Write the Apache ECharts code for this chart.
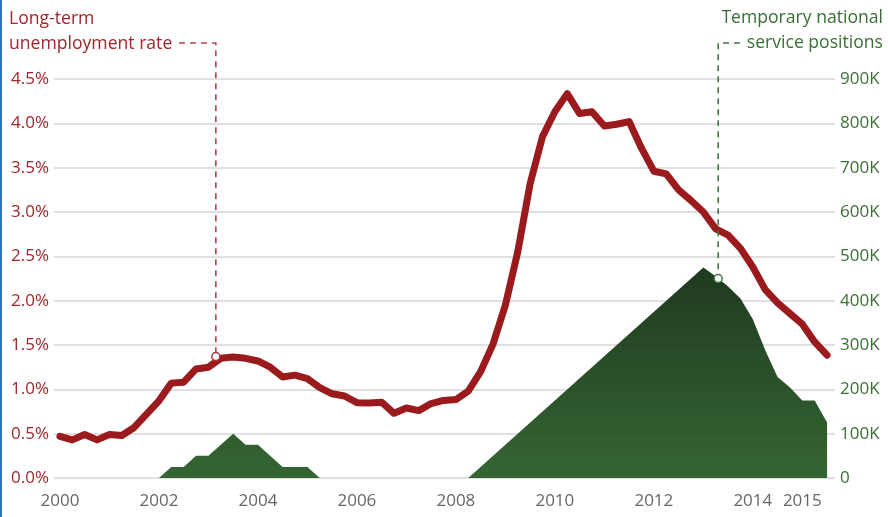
<!DOCTYPE html>
<html>
<head>
<meta charset="utf-8">
<script src="https://cdn.jsdelivr.net/npm/echarts@6/dist/echarts.min.js"></script>
<style>
html,body{margin:0;padding:0;background:#fff;}
#c{width:888px;height:517px;}
</style>
</head>
<body>
<div id="c"></div>
<script>
// Long-term unemployment rate (%), quarterly
const rateTimes = [
  2000.00,2000.25,2000.50,2000.75,2001.00,2001.25,2001.50,2001.75,
  2002.00,2002.25,2002.50,2002.75,2003.00,2003.25,2003.50,2003.75,
  2004.00,2004.25,2004.50,2004.75,2005.00,2005.25,2005.50,2005.75,
  2006.00,2006.25,2006.50,2006.75,2007.00,2007.25,2007.50,2007.75,
  2008.00,2008.25,2008.50,2008.75,2009.00,2009.25,2009.50,2009.75,
  2010.00,2010.25,2010.50,2010.75,2011.00,2011.25,2011.50,2011.75,
  2012.00,2012.25,2012.50,2012.75,2013.00,2013.25,2013.50,2013.75,
  2014.00,2014.25,2014.50,2014.75,2015.00,2015.25,2015.50
];
const rateValues = [
  0.47,0.43,0.49,0.43,0.49,0.48,0.57,0.72,
  0.87,1.07,1.08,1.23,1.25,1.35,1.365,1.35,
  1.32,1.25,1.14,1.16,1.12,1.02,0.95,0.925,
  0.85,0.845,0.855,0.73,0.79,0.76,0.84,0.875,
  0.885,0.98,1.20,1.51,1.95,2.55,3.32,3.85,
  4.13,4.335,4.11,4.13,3.97,3.99,4.02,3.72,
  3.46,3.43,3.25,3.13,3.00,2.81,2.74,2.59,
  2.38,2.125,1.975,1.855,1.735,1.535,1.385
];
// Temporary national service positions (thousands)
const posTimes = [
  2002.00,2002.25,2002.50,2002.75,2003.00,2003.50,2003.75,2004.00,2004.50,2005.00,2005.25,
  2008.25,2013.00,2013.25,2013.50,2013.75,2014.00,2014.25,2014.50,2014.75,2015.00,2015.25,2015.50
];
const posValues = [
  0,25,25,50,50,100,75,75,25,25,0,
  0,475,455,432,405,358,288,228,204,175,175,125
];
// axis ticks
const xTickYears = [2000,2002,2004,2006,2008,2010,2012,2014,2015];
const leftTicks = {min:0, max:4.5, step:0.5};
const rightTicks = {min:0, max:900, step:100};
// annotation anchors
const rateNote = [2003.15, 1.37];
const posNote = [2013.3, 450];

const RED = '#9a1a1e';
const RED_TXT = '#a0262b';
const GREEN_TXT = '#3a6f35';
const FONT = '"Open Sans", "Noto Sans", sans-serif';

const chart = echarts.init(document.getElementById('c'), null, {renderer:'canvas'});
const rateData = rateTimes.map((t,i)=>[t, rateValues[i]]);
const posData = posTimes.map((t,i)=>[t, posValues[i]]);

chart.setOption({
  animation:false,
  backgroundColor:'#fff',
  grid:{left:54, right:53, top:79, bottom:39, containLabel:false},
  xAxis:{
    type:'value', min:1999.88, max:2015.66,
    axisLine:{show:false}, axisTick:{show:false}, splitLine:{show:false},
    axisLabel:{
      customValues:xTickYears, formatter:v=>String(v),
      color:'#666666', fontSize:17, fontFamily:FONT, margin:15
    }
  },
  yAxis:[{
    type:'value', min:leftTicks.min, max:leftTicks.max, interval:leftTicks.step,
    axisLine:{show:false}, axisTick:{show:false},
    splitLine:{show:true, lineStyle:{color:'#d6d6d6', width:1.5}},
    axisLabel:{formatter:v=>v.toFixed(1)+'%', color:RED_TXT, fontSize:17, fontFamily:FONT, margin:5}
  },{
    type:'value', min:rightTicks.min, max:rightTicks.max, interval:rightTicks.step,
    axisLine:{show:false}, axisTick:{show:false}, splitLine:{show:false},
    axisLabel:{formatter:v=>v===0?'0':v+'K', color:GREEN_TXT, fontSize:17, fontFamily:FONT, margin:5}
  }],
  series:[{
    type:'line', yAxisIndex:1, data:posData, showSymbol:false, z:2,
    lineStyle:{width:0},
    areaStyle:{
      opacity:0.93,
      color:{type:'linear', x:0, y:266, x2:0, y2:478, global:true,
        colorStops:[{offset:0,color:'#0f2b0e'},{offset:1,color:'#265a24'}]}
    }
  },{
    type:'line', yAxisIndex:0, data:rateData, showSymbol:false, z:3,
    lineStyle:{color:RED, width:7, join:'round', cap:'round'}
  }]
});

function drawAnnotations(){
  const rp = chart.convertToPixel({seriesIndex:1}, rateNote);
  const gp = chart.convertToPixel({seriesIndex:0}, posNote);
  const lineY = 43;
  const els = [
    {type:'rect', shape:{x:0,y:0,width:2,height:517}, style:{fill:'#2f74b5'}, z:100},
    {type:'text', x:9, y:19, style:{text:'Long-term', fill:RED_TXT, font:'17.6px '+FONT, textVerticalAlign:'middle'}, z:100},
    {type:'text', x:9, y:44, style:{text:'unemployment rate', fill:RED_TXT, font:'17.6px '+FONT, textVerticalAlign:'middle'}, z:100},
    {type:'text', x:883, y:18, style:{text:'Temporary national', fill:GREEN_TXT, font:'17.6px '+FONT, textAlign:'right', textVerticalAlign:'middle'}, z:100},
    {type:'text', x:883, y:43, style:{text:'service positions', fill:GREEN_TXT, font:'17.6px '+FONT, textAlign:'right', textVerticalAlign:'middle'}, z:100},
    {type:'polyline', shape:{points:[[179,lineY],[rp[0],lineY],[rp[0],rp[1]-4]]},
      style:{stroke:'#b44448', lineWidth:1.6, lineDash:[6,5], fill:null}, z:90},
    {type:'polyline', shape:{points:[[740,lineY],[gp[0],lineY],[gp[0],gp[1]-4]]},
      style:{stroke:'#3f7a3b', lineWidth:1.6, lineDash:[6,5], fill:null}, z:90},
    {type:'circle', shape:{cx:rp[0], cy:rp[1], r:4}, style:{fill:'#fff', stroke:'#a8363a', lineWidth:1.5}, z:95},
    {type:'circle', shape:{cx:gp[0], cy:gp[1], r:4}, style:{fill:'#fff', stroke:'#3f7a3b', lineWidth:1.5}, z:95}
  ];
  chart.setOption({graphic:{elements:els}});
}
drawAnnotations();
</script>
</body>
</html>
